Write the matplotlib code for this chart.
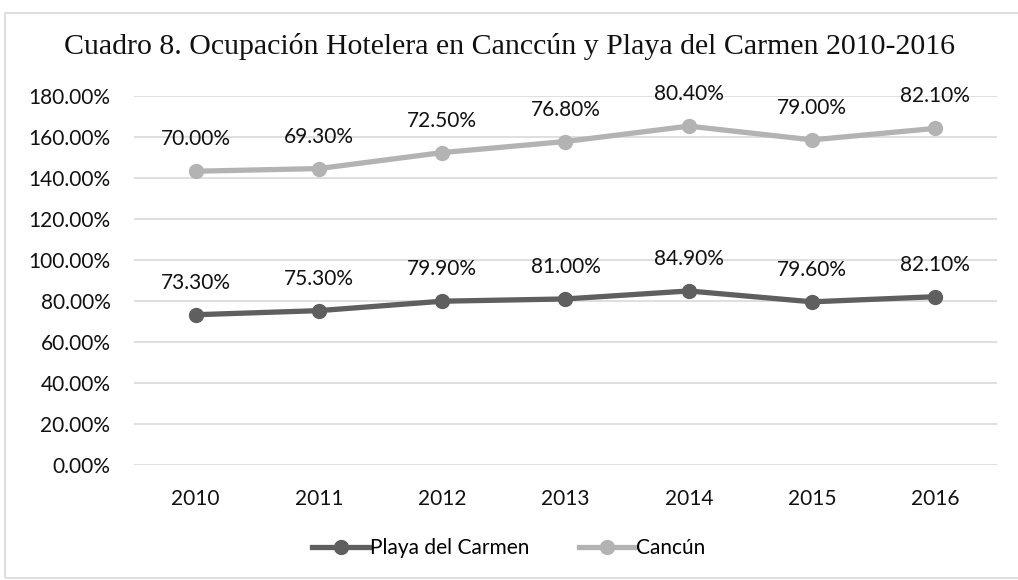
import matplotlib.pyplot as plt
import numpy as np
from matplotlib.patches import Rectangle
from matplotlib.ticker import FuncFormatter

years = ["2010", "2011", "2012", "2013", "2014", "2015", "2016"]
playa = [73.3, 75.3, 79.9, 81.0, 84.9, 79.6, 82.1]
cancun = [70.0, 69.3, 72.5, 76.8, 80.4, 79.0, 82.1]

title = "Cuadro 8. Ocupación Hotelera en Canccún y Playa del Carmen 2010-2016"

plt.rcParams['font.family'] = ['Lato', 'DejaVu Sans']

fig = plt.figure(figsize=(10.18, 5.8), dpi=100)
ax = fig.add_axes([134 / 1018, 1 - 465 / 580, 863 / 1018, 369 / 580])

# chart border
fig.patches.append(Rectangle((5 / 1018, 2 / 580), 1.0, 565 / 580, transform=fig.transFigure,
                             fill=False, edgecolor="#d9d9d9", linewidth=1.2))

x = np.arange(len(years))
stacked = np.array(playa) + np.array(cancun)

dark = "#5f5f5f"
light = "#b3b3b3"

ax.plot(x, playa, color=dark, lw=3.8, marker="o", ms=10, label="Playa del Carmen", zorder=3)
ax.plot(x, stacked, color=light, lw=3.8, marker="o", ms=10, label="Cancún", zorder=3)

fs = 15
for xi, v in zip(x, playa):
    ax.annotate(f"{v:.2f}%", (xi, v), xytext=(0, 23), textcoords="offset points",
                ha="center", va="center", fontsize=fs, color="#111111")
for xi, v, s in zip(x, cancun, stacked):
    ax.annotate(f"{v:.2f}%", (xi, s), xytext=(0, 23), textcoords="offset points",
                ha="center", va="center", fontsize=fs, color="#111111")

ax.set_xlim(-0.5, 6.5)
ax.set_ylim(0, 180)
ax.set_yticks(np.arange(0, 181, 20))
ax.yaxis.set_major_formatter(FuncFormatter(lambda v, p: f"{v:.2f}%"))
ax.set_xticks(x)
ax.set_xticklabels(years)
ax.tick_params(axis="both", length=0, labelsize=fs, colors="#111111")
ax.tick_params(axis="y", pad=17)
ax.tick_params(axis="x", pad=17)
ax.grid(axis="y", color="#d9d9d9", lw=1.2)
ax.set_axisbelow(True)
for sp in ax.spines.values():
    sp.set_visible(False)

fig.text(0.5, 1 - 46 / 580, title, ha="center", va="center", fontsize=21.5,
         family=["Liberation Serif", "DejaVu Serif"], color="#111111")

fig.legend(loc="center", bbox_to_anchor=(0.5, 1 - 548 / 580), ncol=2, frameon=False,
           fontsize=fs, handlelength=2.7, handletextpad=0.05, columnspacing=2.4)

fig.savefig("out.png", dpi=100)
